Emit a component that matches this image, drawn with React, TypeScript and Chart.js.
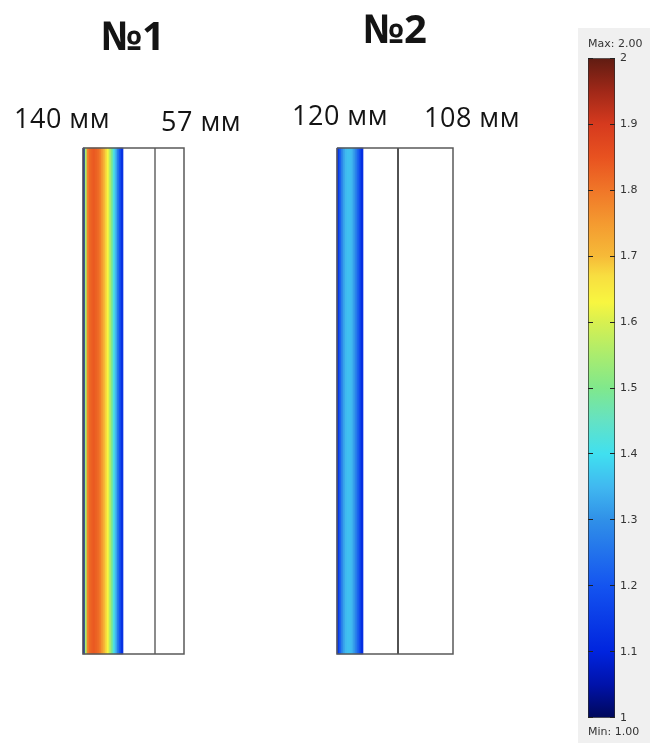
import React, { useEffect, useRef } from 'react';
import { Chart, registerables } from 'chart.js';

Chart.register(...registerables);

// ---------- data ----------
const COLUMN_TITLES = ['№1', '№2'];
const LAYER_LABELS = ['140 мм', '57 мм', '120 мм', '108 мм'];

// field value across the heated layer (left -> right), column №1
const PROFILE_1 = [
  1.05, 1.55, 1.78, 1.82, 1.83, 1.84, 1.83, 1.82, 1.8, 1.76,
  1.72, 1.68, 1.63, 1.57, 1.5, 1.42, 1.35, 1.27, 1.2, 1.13,
];
// column №2
const PROFILE_2 = [1.12, 1.2, 1.27, 1.32, 1.35, 1.36, 1.36, 1.35, 1.32, 1.28, 1.23, 1.18, 1.12];

const SCALE_MIN = 1;
const SCALE_MAX = 2;
const SCALE_STEP = 0.1;
const SCALE_CAPTIONS = ['Max: 2.00', 'Min: 1.00'];

// ---------- colour map (rainbow) ----------
const CMAP_VALUES = [1.0, 1.05, 1.1, 1.2, 1.3, 1.35, 1.4, 1.45, 1.5, 1.55, 1.6, 1.63, 1.67, 1.7, 1.75, 1.8, 1.85, 1.9, 1.95, 2.0];
const CMAP_COLORS: number[][] = [
  [0, 8, 90], [0, 18, 170], [0, 36, 222], [20, 84, 240], [48, 144, 232], [64, 184, 240],
  [64, 224, 240], [100, 226, 196], [128, 232, 140], [170, 236, 110], [216, 240, 80], [248, 246, 64],
  [248, 222, 64], [246, 186, 56], [244, 154, 48], [240, 118, 40], [232, 82, 32], [214, 58, 30],
  [160, 40, 24], [96, 28, 18],
];

function colorFor(v: number): string {
  if (v <= CMAP_VALUES[0]) return `rgb(${CMAP_COLORS[0].join(',')})`;
  for (let i = 1; i < CMAP_VALUES.length; i++) {
    if (v <= CMAP_VALUES[i]) {
      const t = (v - CMAP_VALUES[i - 1]) / (CMAP_VALUES[i] - CMAP_VALUES[i - 1]);
      const a = CMAP_COLORS[i - 1];
      const b = CMAP_COLORS[i];
      const c = a.map((x, k) => Math.round(x + (b[k] - x) * t));
      return `rgb(${c.join(',')})`;
    }
  }
  return `rgb(${CMAP_COLORS[CMAP_COLORS.length - 1].join(',')})`;
}

// ---------- layout ----------
const W = 650;
const H = 743;
const STRIP_W = 2;
const COL_TOP = 148;
const COL_BOTTOM = 654;
const COLUMNS = [
  { left: 83, divider: 155, right: 184, profile: PROFILE_1, dividerColor: '#666' },
  { left: 337, divider: 398, right: 453, profile: PROFILE_2, dividerColor: '#1a1a1a' },
];
const TITLE_POS = [
  { x: 133, y: 39 },
  { x: 395, y: 32 },
];
const LABEL_POS = [
  { x: 62, y: 120 },
  { x: 201, y: 123 },
  { x: 340, y: 117 },
  { x: 472, y: 119 },
];

const textPlugin = {
  id: 'diagramText',
  afterDraw(chart: any) {
    const { ctx, scales } = chart;
    const px = (x: number) => scales.x.getPixelForValue(x);
    const py = (y: number) => scales.y.getPixelForValue(y);
    ctx.save();
    ctx.fillStyle = '#141414';
    ctx.textAlign = 'center';
    ctx.textBaseline = 'middle';
    ctx.font = 'bold 40px "Open Sans"';
    COLUMN_TITLES.forEach((t, i) => ctx.fillText(t, px(TITLE_POS[i].x), py(TITLE_POS[i].y)));
    ctx.font = '27px "Open Sans"';
    try {
      (ctx as any).letterSpacing = '0.5px';
    } catch (e) {}
    LAYER_LABELS.forEach((t, i) => ctx.fillText(t, px(LABEL_POS[i].x), py(LABEL_POS[i].y)));
    ctx.restore();
  },
};

export default function App() {
  const mainRef = useRef<HTMLCanvasElement>(null);
  const barRef = useRef<HTMLCanvasElement>(null);

  useEffect(() => {
    const datasets: any[] = [];
    COLUMNS.forEach((c, ci) => {
      datasets.push({
        type: 'bar',
        label: `heat${ci}`,
        data: c.profile.map((_, i) => ({ x: c.left + (i + 0.5) * STRIP_W, y: [COL_TOP, COL_BOTTOM] })),
        backgroundColor: c.profile.map(colorFor),
        borderWidth: 0,
        barPercentage: 1,
        categoryPercentage: 1,
        grouped: false,
        order: 2,
      });
      datasets.push({
        type: 'line',
        label: `frame${ci}`,
        data: [
          { x: c.left, y: COL_TOP },
          { x: c.right, y: COL_TOP },
          { x: c.right, y: COL_BOTTOM },
          { x: c.left, y: COL_BOTTOM },
          { x: c.left, y: COL_TOP },
        ],
        borderColor: '#5a5a5a',
        borderWidth: 1.5,
        pointRadius: 0,
        fill: false,
        tension: 0,
        order: 0,
      });
      datasets.push({
        type: 'line',
        label: `divider${ci}`,
        data: [
          { x: c.divider, y: COL_TOP },
          { x: c.divider, y: COL_BOTTOM },
        ],
        borderColor: c.dividerColor,
        borderWidth: 1.5,
        pointRadius: 0,
        fill: false,
        order: 0,
      });
    });

    const main = new Chart(mainRef.current!, {
      type: 'bar',
      data: { datasets },
      options: {
        responsive: false,
        animation: false,
        devicePixelRatio: 1,
        events: [],
        layout: { padding: 0 },
        plugins: { legend: { display: false }, tooltip: { enabled: false }, title: { display: false } },
        scales: {
          x: { type: 'linear', min: 0, max: W, offset: false, display: false },
          y: { type: 'linear', min: 0, max: H, reverse: true, offset: false, display: false },
        },
      } as any,
      plugins: [textPlugin],
    });

    const tickFont = { family: '"DejaVu Sans", Verdana, sans-serif', size: 11, weight: 'normal' as const };
    const bar = new Chart(barRef.current!, {
      type: 'bar',
      data: {
        labels: [''],
        datasets: [
          {
            data: [[SCALE_MIN, SCALE_MAX]] as any,
            backgroundColor: (ctx: any) => {
              const area = ctx.chart.chartArea;
              if (!area) return '#888';
              const g = ctx.chart.ctx.createLinearGradient(0, area.bottom, 0, area.top);
              CMAP_VALUES.forEach((v) => {
                g.addColorStop((v - SCALE_MIN) / (SCALE_MAX - SCALE_MIN), colorFor(v));
              });
              return g;
            },
            borderColor: '#2a2a2a',
            borderWidth: 1,
            borderSkipped: false,
            barPercentage: 1,
            categoryPercentage: 1,
          } as any,
        ],
      },
      options: {
        responsive: false,
        animation: false,
        devicePixelRatio: 1,
        events: [],
        layout: { padding: 0 },
        plugins: {
          legend: { display: false },
          tooltip: { enabled: false },
          title: {
            display: true,
            text: SCALE_CAPTIONS[0],
            align: 'start',
            color: '#333',
            font: tickFont,
            padding: { top: 4, bottom: 7 },
          },
          subtitle: {
            display: true,
            position: 'bottom',
            text: SCALE_CAPTIONS[1],
            align: 'start',
            color: '#333',
            font: tickFont,
            padding: { top: 8, bottom: 4 },
          },
        },
        scales: {
          x: { display: false },
          y: {
            position: 'right',
            min: SCALE_MIN,
            max: SCALE_MAX,
            ticks: {
              stepSize: SCALE_STEP,
              padding: 5,
              color: '#333',
              font: tickFont,
              callback: (v: any) => String(Number(Number(v).toFixed(1))),
            },
            grid: { drawOnChartArea: true, drawTicks: false, color: '#222', lineWidth: 1, z: 1 },
            border: { display: false, dash: [5, 17] },
            afterFit: (s: any) => {
              s.width = 35;
            },
          },
        },
      } as any,
    });

    return () => {
      main.destroy();
      bar.destroy();
    };
  }, []);

  return (
    <div style={{ position: 'absolute', left: 0, top: 0, width: W, height: H, background: '#fff', overflow: 'hidden' }}>
      <canvas ref={mainRef} width={W} height={H} style={{ position: 'absolute', left: 0, top: 0 }} />
      <div style={{ position: 'absolute', left: 578, top: 28, width: 72, height: 715, background: '#f0f0f0' }} />
      <canvas ref={barRef} width={62} height={709} style={{ position: 'absolute', left: 588, top: 34 }} />
    </div>
  );
}
